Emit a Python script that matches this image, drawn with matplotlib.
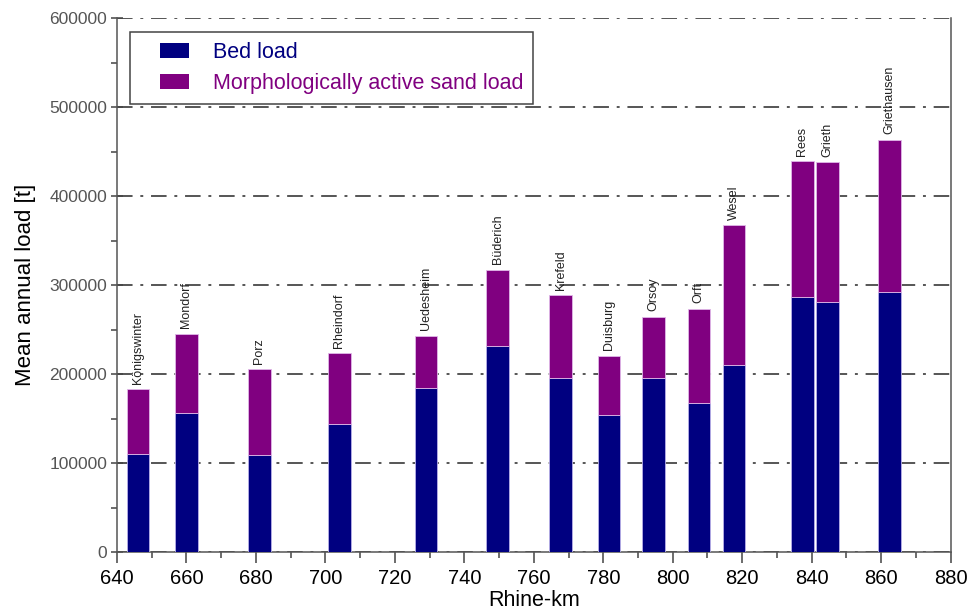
import numpy as np
import matplotlib
matplotlib.use("Agg")
import matplotlib.pyplot as plt
from matplotlib.patches import Patch, Rectangle
from matplotlib.legend_handler import HandlerPatch
from matplotlib.ticker import MultipleLocator

plt.rcParams['font.family'] = ['Liberation Sans', 'DejaVu Sans']

# station data
stations = ['Königswinter', 'Mondorf', 'Porz', 'Rheindorf', 'Uedesheim', 'Büderich',
            'Krefeld', 'Duisburg', 'Orsoy', 'Orft', 'Wesel', 'Rees', 'Grieth', 'Griethausen']
rhine_km = [646, 660, 681, 704, 729, 749.6, 767.7, 781.7, 794.5, 807.5, 817.6, 837.3, 844.5, 862.4]
bed_load = [110000, 156500, 108600, 144200, 184600, 231000, 195500, 153900, 195500,
            167700, 210400, 286500, 281200, 292500]
total_load = [183000, 245300, 205200, 223200, 242700, 317200, 288300, 220600, 264400,
              273000, 367000, 438900, 437800, 462900]
sand_load = [t - b for t, b in zip(total_load, bed_load)]

bed_color = '#000080'
sand_color = '#800080'

fig = plt.figure(figsize=(9.71, 6.13), dpi=100)
ax = fig.add_axes([0.1205, 0.0995, 0.8585, 0.8711])

ax.bar(rhine_km, bed_load, width=6.5, color=bed_color, edgecolor='#b8b0e8', linewidth=0.6, zorder=3)
ax.bar(rhine_km, sand_load, width=6.5, bottom=bed_load, color=sand_color,
       edgecolor='#e0b8e8', linewidth=0.6, zorder=3)

for name, x, t in zip(stations, rhine_km, total_load):
    ax.annotate(name, (x, t), xytext=(0, 4), textcoords='offset points', color='#222222',
                rotation=90, ha='center', va='bottom', fontsize=9, zorder=4)

ax.set_xlim(640, 880)
ax.set_ylim(0, 600000)
ax.xaxis.set_major_locator(MultipleLocator(20))
ax.xaxis.set_minor_locator(MultipleLocator(10))
ax.yaxis.set_major_locator(MultipleLocator(100000))
ax.yaxis.set_minor_locator(MultipleLocator(50000))
ax.tick_params(axis='x', which='major', labelsize=14.5, colors='#444444', labelcolor='black',
               length=8, width=1.1, direction='out', pad=4)
ax.tick_params(axis='y', which='major', labelsize=12.5, colors='#444444', labelcolor='#555555',
               length=8, width=1.1, direction='inout', pad=3)
ax.tick_params(axis='both', which='minor', length=4, width=1.1, direction='out', colors='#444444')

ax.grid(axis='y', which='major', color='#555555', linestyle=(0, (8, 4, 1.5, 4)), linewidth=1.4, zorder=1)
ax.spines['top'].set_visible(False)
for s in ['left', 'right', 'bottom']:
    ax.spines[s].set_color('#555555')
    ax.spines[s].set_linewidth(1.1)

ax.set_xlabel('Rhine-km', fontsize=15.5, labelpad=2)
ax.set_ylabel('Mean annual load [t]', fontsize=16, labelpad=10)


def offset_rect(legend, orig_handle, xdescent, ydescent, width, height, fontsize):
    # swatch sits in the right part of the handle box
    return Rectangle((-xdescent + width * 0.4, -ydescent), width * 0.6, height)


handles = [Patch(facecolor=bed_color, label='Bed load'),
           Patch(facecolor=sand_color, label='Morphologically active sand load')]
leg = ax.legend(handles=handles, loc='upper left', bbox_to_anchor=(0.0156, 0.974), fontsize=15.5,
                fancybox=False, edgecolor='#444444', framealpha=1, handlelength=2.3,
                handleheight=0.7, handletextpad=1.1, borderpad=0.45, labelspacing=0.5,
                borderaxespad=0,
                handler_map={Patch: HandlerPatch(patch_func=offset_rect)})
leg.get_frame().set_linewidth(1.1)
for txt, c in zip(leg.get_texts(), [bed_color, sand_color]):
    txt.set_color(c)
leg.set_zorder(5)

fig.savefig('out.png', dpi=100)
